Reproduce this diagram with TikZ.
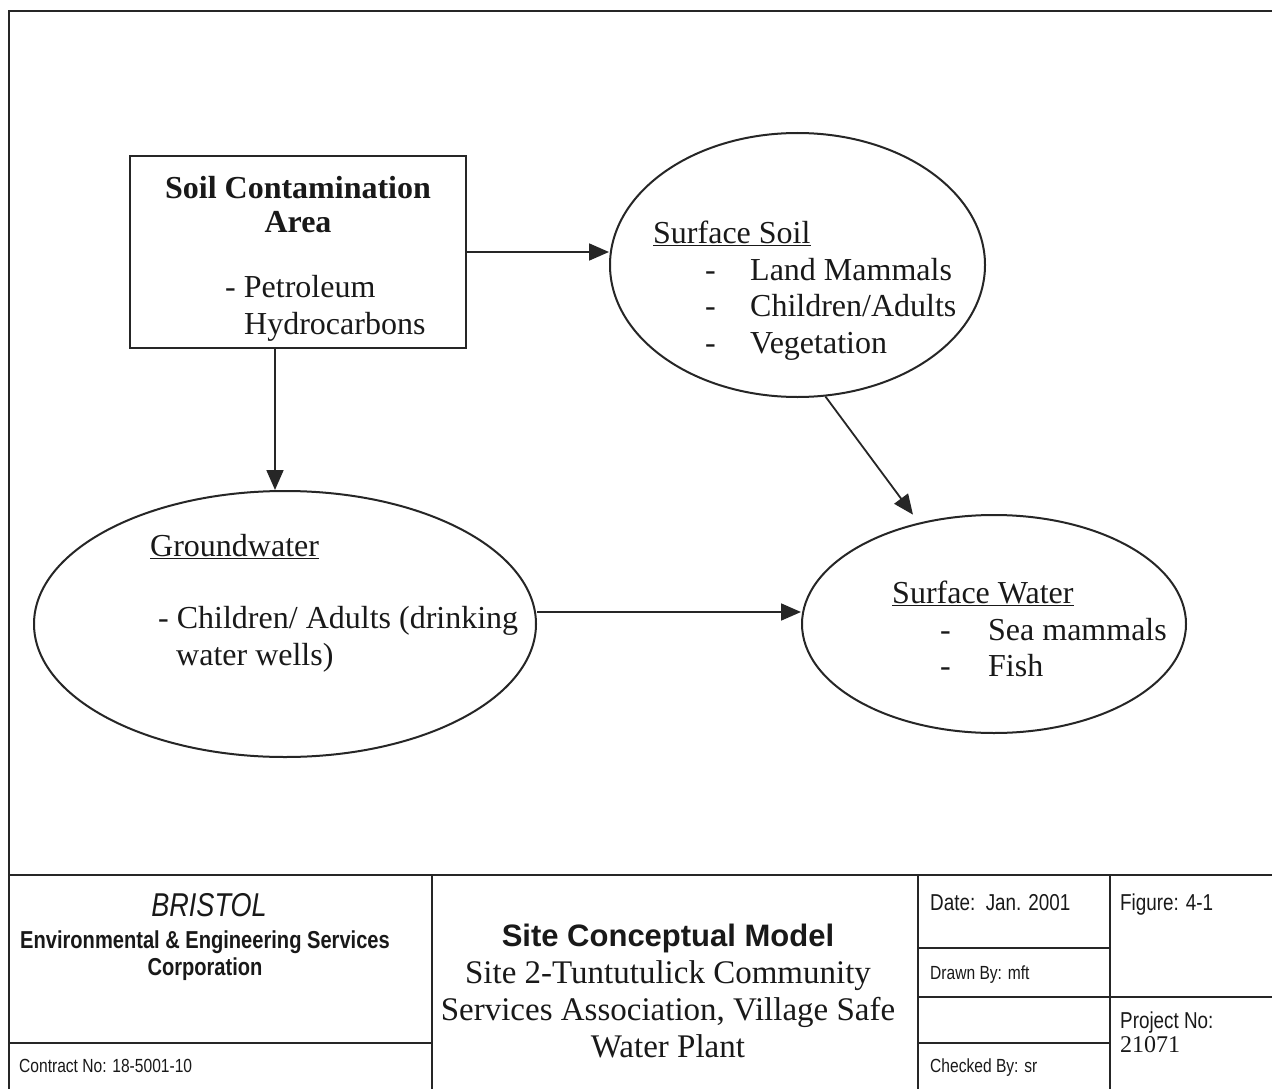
\documentclass[tikz,border=0pt]{standalone}
\usepackage{fontspec}
\setmainfont{Liberation Serif}
\newfontfamily\narrowsf[FakeStretch=0.82]{Liberation Sans}
\newfontfamily\arialsf{Liberation Sans}
\usetikzlibrary{arrows.meta,shapes.geometric}
\begin{document}
\begin{tikzpicture}[x=1pt,y=-1pt,
  frameline/.style={draw=black!85, line width=2.4pt},
  cellline/.style={draw=black!85, line width=2pt},
  srcbox/.style={draw=black!85, line width=2pt, inner sep=0},
  oval/.style={ellipse, draw=black!85, line width=2pt, inner sep=0},
  arr/.style={draw=black!85, line width=1.8pt, -{Triangle[length=20pt,width=17pt]}},
  txt/.style={inner sep=0, anchor=base west, text=black!90, font=\fontsize{32}{37}\selectfont},
  hd/.style={inner sep=0, anchor=base, text=black!90, font=\fontsize{32}{37}\selectfont\bfseries},
  ttl/.style={inner sep=0, anchor=base, text=black!90, font=\fontsize{33}{37}\selectfont},
  nsf/.style={inner sep=0, anchor=base west, text=black!90, font=\narrowsf\fontsize{#1}{#1}\selectfont},
]
\useasboundingbox (0,0) rectangle (1272,1089);
\fill[white] (0,0) rectangle (1272,1089);

% frame and title block
\draw[frameline] (9,1089) -- (9,11) -- (1272,11);
\draw[frameline] (9,875) -- (1272,875);
\draw[cellline] (432,875) -- (432,1089);
\draw[cellline] (918,875) -- (918,1089);
\draw[cellline] (1110,875) -- (1110,1089);
\draw[cellline] (9,1043) -- (432,1043);
\draw[cellline] (918,948) -- (1110,948);
\draw[cellline] (918,997) -- (1272,997);
\draw[cellline] (918,1043) -- (1110,1043);

% diagram nodes
\node[srcbox, minimum width=336pt, minimum height=192pt] (src) at (298,252) {};
\node[oval, minimum width=375pt, minimum height=264pt] (soil) at (797.5,265) {};
\node[oval, minimum width=502pt, minimum height=266pt] (gw) at (285,624) {};
\node[oval, minimum width=384pt, minimum height=218pt] (sw) at (994,624) {};

% texts in source box
\node[hd] (s1) at (298,198) {Soil Contamination};
\node[hd] (s2) at (298,232) {Area};
\node[txt] (s3) at (225,297) {- Petroleum};
\node[txt] (s4) at (244,334) {Hydrocarbons};

% surface soil
\node[txt] (p1) at (653,243) {\underline{Surface Soil}};
\node[txt] (p2) at (705,280) {\makebox[45pt][l]{-}Land Mammals};
\node[txt] (p3) at (705,316) {\makebox[45pt][l]{-}Children/Adults};
\node[txt] (p4) at (705,353) {\makebox[45pt][l]{-}Vegetation};

% groundwater
\node[txt] (g1) at (150,556) {\underline{Groundwater}};
\node[txt] (g2) at (158,628) {- Children/ Adults (drinking};
\node[txt] (g3) at (176,665) {water wells)};

% surface water
\node[txt] (w1) at (892,603) {\underline{Surface Water}};
\node[txt] (w2) at (940,640) {\makebox[48pt][l]{-}Sea mammals};
\node[txt] (w3) at (940,676) {\makebox[48pt][l]{-}Fish};

% connectors
\draw[arr] (src.east) -- (src.east -| soil.west);
\draw[arr] ([xshift=-23pt]src.south) -- ([xshift=-10pt]gw.north);
\draw[arr] ([yshift=12pt]gw.east) -- ([yshift=12pt]gw.east -| sw.west);
\draw[arr, shorten >=10pt] (soil.-78) -- (sw);

% title block texts
\node[inner sep=0, anchor=base, text=black!90, font=\narrowsf\itshape\fontsize{33}{33}\selectfont] (b1) at (209,916) {BRISTOL};
\node[inner sep=0, anchor=base, text=black!90, font=\narrowsf\bfseries\fontsize{24.5}{24.5}\selectfont] (b2) at (205,948) {Environmental \& Engineering Services};
\node[inner sep=0, anchor=base, text=black!90, font=\narrowsf\bfseries\fontsize{24.5}{24.5}\selectfont] (b3) at (205,975) {Corporation};
\node[nsf=19] (b4) at (19,1072) {Contract No: 18-5001-10};

\node[inner sep=0, anchor=base, text=black!90, font=\arialsf\bfseries\fontsize{31}{31}\selectfont] (m1) at (668,946) {Site Conceptual Model};
\node[ttl] (m2) at (668,983) {Site 2-Tuntutulick Community};
\node[ttl] (m3) at (668,1020) {Services Association, Village Safe};
\node[ttl] (m4) at (668,1057) {Water Plant};

\node[nsf=23] (d1) at (930,910) {Date:~~Jan. 2001};
\node[nsf=19] (d2) at (930,979) {Drawn By: mft};
\node[nsf=19] (d3) at (930,1072) {Checked By: sr};
\node[nsf=23] (f1) at (1120,910) {Figure: 4-1};
\node[nsf=23] (f2) at (1120,1028) {Project No:};
\node[inner sep=0, anchor=base west, text=black!90, font=\fontsize{24}{24}\selectfont] (f3) at (1120,1052) {21071};
\end{tikzpicture}
\end{document}
